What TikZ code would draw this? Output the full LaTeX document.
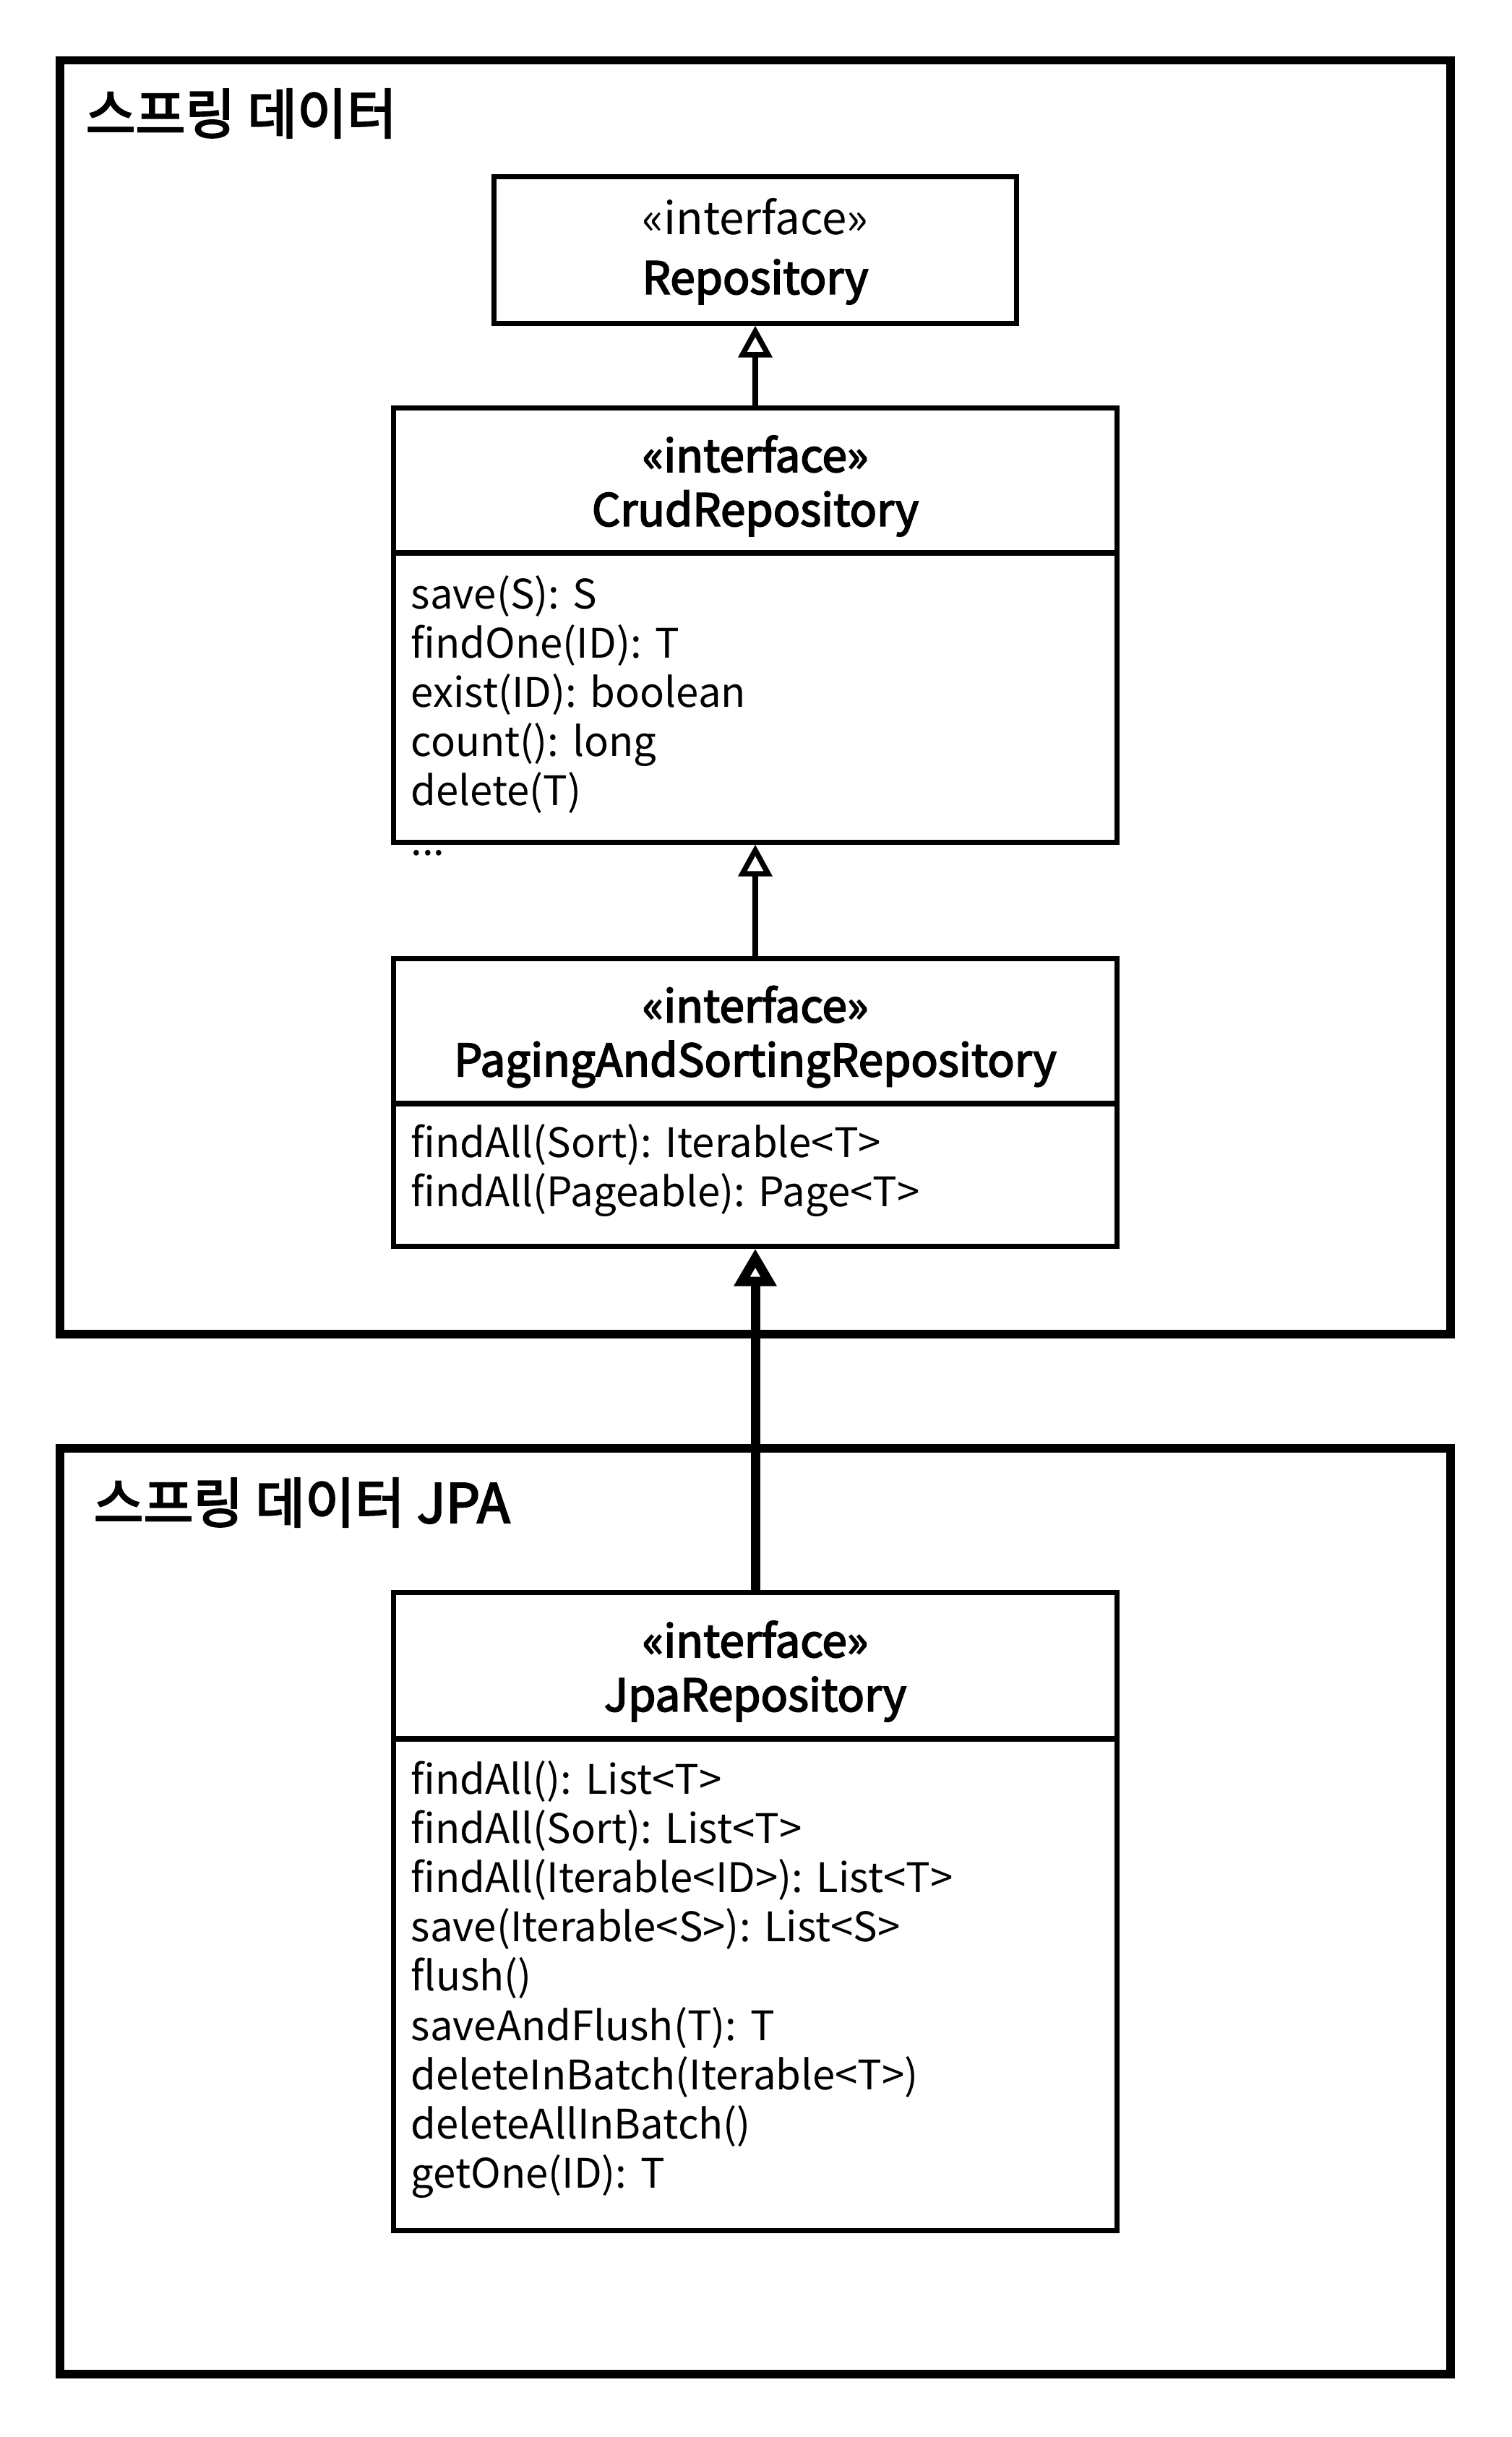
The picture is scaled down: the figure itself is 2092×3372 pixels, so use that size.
\documentclass[tikz,border=0pt]{standalone}
\usepackage{fontspec}
\setmainfont{Noto Sans CJK KR}
\newfontfamily\medfont[FakeBold=3]{Noto Sans CJK KR}
\usetikzlibrary{arrows.meta}
\begin{document}
\frenchspacing
\begin{tikzpicture}[x=0.01cm,y=-0.01cm,
  container/.style={draw, line width=3.4pt, rectangle, inner sep=0pt},
  box/.style={draw, line width=2pt, rectangle, inner sep=0pt, minimum width=10cm},
  title/.style={font=\medfont\fontsize{21.3pt}{25pt}\selectfont, inner sep=0pt, anchor=west},
  head/.style={font=\medfont\fontsize{17.6pt}{21.3pt}\selectfont, align=center, inner sep=0pt},
  members/.style={font=\fontsize{16pt}{19.4pt}\selectfont\frenchspacing, align=left, text width=9.5cm, inner sep=0pt, anchor=base west},
  inh/.style={draw, line width=2.1pt, -{Triangle[open,length=0.44cm,width=0.46cm]}},
  inhthick/.style={draw, line width=3.7pt, -{Triangle[open,length=0.52cm,width=0.56cm]}}
]
\useasboundingbox (0,0) rectangle (2092,3372);
\fill[white] (0,0) rectangle (2092,3372);

% containers
\node[container, minimum width=19.22cm, minimum height=17.61cm] (sd) at (1045,964.5) {};
\node[container, minimum width=19.22cm, minimum height=12.81cm] (sdjpa) at (1045,2644.5) {};
\node[title] (sdt) at (118,157) {스프링 데이터};
\node[title] (sdjpat) at (129,2079) {스프링 데이터 JPA};

% Repository
\node[box, minimum width=7.22cm, minimum height=2.02cm] (repo) at (1045,346) {};
\node[head, font=\fontsize{17.6pt}{23.3pt}\selectfont] (repot) at ([yshift=-0.02cm]repo.center) {«interface»\\{\medfont Repository}};

% CrudRepository
\node[box, minimum height=2cm] (crudh) at (1045,665) {};
\node[head] (crudht) at ([yshift=-0.075cm]crudh.center) {«interface»\\CrudRepository};
\node[box, minimum height=4cm] (crudb) at (1045,965) {};
\node[members] (crudm) at (568,842) {save(S): S\\findOne(ID): T\\exist(ID): boolean\\count(): long\\delete(T)\\...};

% PagingAndSortingRepository
\node[box, minimum height=2cm] (pagh) at (1045,1427) {};
\node[head] (paght) at ([yshift=-0.075cm]pagh.center) {«interface»\\PagingAndSortingRepository};
\node[box, minimum height=1.97cm] (pagb) at (1045,1625.5) {};
\node[members] (pagm) at (568,1601) {findAll(Sort): Iterable<T>\\findAll(Pageable): Page<T>};

% JpaRepository
\node[box, minimum height=2.02cm] (jpah) at (1045,2305) {};
\node[head] (jpaht) at ([yshift=-0.075cm]jpah.center) {«interface»\\JpaRepository};
\node[box, minimum height=6.8cm] (jpab) at (1045,2746) {};
\node[members] (jpam) at (568,2482) {findAll(): List<T>\\findAll(Sort): List<T>\\findAll(Iterable<ID>): List<T>\\save(Iterable<S>): List<S>\\flush()\\saveAndFlush(T): T\\deleteInBatch(Iterable<T>)\\deleteAllInBatch()\\getOne(ID): T};

% inheritance arrows
\draw[inh] (crudh.north) -- (repo.south);
\draw[inh] (pagh.north) -- (crudb.south);
\draw[inhthick] (jpah.north) -- (pagb.south);
\end{tikzpicture}
\end{document}
